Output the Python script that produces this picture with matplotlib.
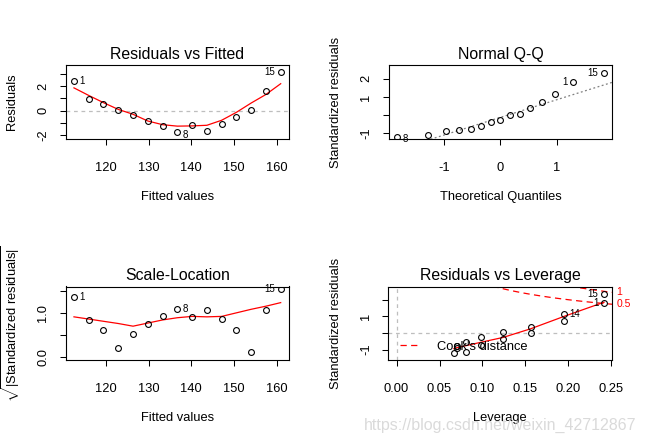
import numpy as np
import matplotlib
matplotlib.use("Agg")
import matplotlib.pyplot as plt

plt.rcParams['font.family'] = ['Liberation Sans', 'DejaVu Sans']
plt.rcParams['mathtext.fontset'] = 'custom'
plt.rcParams['mathtext.rm'] = 'Liberation Sans'
plt.rcParams['mathtext.it'] = 'Liberation Sans:italic'
plt.rcParams['mathtext.bf'] = 'Liberation Sans:bold'

# ---- data (lm diagnostics, 15 observations) ----
obs_id = list(range(1, 16))
fitted = [112.58, 116.03, 119.48, 122.93, 126.38, 129.83, 133.28, 136.73,
          140.18, 143.63, 147.08, 150.53, 153.98, 157.43, 160.88]
residuals = [2.417, 0.967, 0.517, 0.067, -0.383, -0.833, -1.283, -1.733,
             -1.183, -1.633, -1.083, -0.533, 0.017, 1.567, 3.117]
std_resid = [1.820, 0.707, 0.369, 0.047, -0.265, -0.570, -0.873, -1.177,
             -0.805, -1.117, -0.748, -0.374, 0.012, 1.145, 2.347]
sqrt_abs_std = [1.349, 0.841, 0.607, 0.216, 0.515, 0.755, 0.934, 1.085,
                0.897, 1.057, 0.865, 0.611, 0.109, 1.070, 1.532]
leverage = [0.2417, 0.1952, 0.1560, 0.1238, 0.0988, 0.0810, 0.0702, 0.0667,
            0.0702, 0.0810, 0.0988, 0.1238, 0.1560, 0.1952, 0.2417]
# Normal Q-Q (sorted)
theor_q = [-1.834, -1.282, -0.967, -0.728, -0.524, -0.341, -0.168, 0.0,
           0.168, 0.341, 0.524, 0.728, 0.967, 1.282, 1.834]
qq_sample = [-1.177, -1.117, -0.873, -0.805, -0.748, -0.570, -0.374, -0.265,
             0.012, 0.047, 0.369, 0.707, 1.145, 1.820, 2.347]
qq_ids = [8, 10, 7, 9, 11, 6, 12, 5, 13, 4, 3, 2, 14, 1, 15]
qqline_slope = 0.974
qqline_intercept = -0.119
# smoothers
smooth_rf = [1.86, 1.24, 0.65, 0.10, -0.30, -0.85, -1.15, -1.27, -1.25, -1.20,
             -0.79, -0.14, 0.62, 1.32, 2.20]
smooth_sl = [0.91, 0.86, 0.81, 0.76, 0.70, 0.77, 0.84, 0.89, 0.92, 0.91,
             0.92, 1.00, 1.08, 1.15, 1.23]
smooth_lev_x = [0.0667, 0.0702, 0.0810, 0.0988, 0.1238, 0.1560, 0.1952, 0.2417]
smooth_lev_y = [-0.94, -0.88, -0.76, -0.55, -0.27, 0.25, 1.00, 1.85]
cook_levels = [0.5, 1]
n_params = 2

# labelled points per panel: (id, side)
lab_rf = [(1, 'r'), (8, 'r'), (15, 'l')]
lab_qq = [(8, 'r'), (1, 'l'), (15, 'l')]
lab_sl = [(1, 'r'), (8, 'r'), (15, 'l')]
lab_lev = [(15, 'l'), (1, 'l'), (14, 'r')]

W, H = 646, 442
fig = plt.figure(figsize=(W / 100, H / 100), dpi=100)

FS = 9.3
TFS = 11.4
LFS = 7.0


def box(l, r, t, b):
    return [l / W, 1 - b / H, (r - l) / W, (b - t) / H]


def style(ax, xlim, ylim, xt, xtl, yt, ytl, title, xlabel, ylabel, ylpad=13):
    ax.set_xlim(*xlim)
    ax.set_ylim(*ylim)
    ax.set_xticks(xt)
    ax.set_xticklabels(xtl, fontsize=FS)
    ax.set_yticks(yt)
    ax.set_yticklabels(ytl, fontsize=FS, rotation=90, va='center')
    ax.tick_params(axis='both', length=4.3, width=0.75, color='black')
    ax.tick_params(axis='x', pad=12)
    ax.tick_params(axis='y', pad=7.5)
    for s in ax.spines.values():
        s.set_linewidth(0.8)
        s.set_color('black')
    ax.set_title(title, fontsize=TFS, pad=4.5)
    ax.set_xlabel(xlabel, fontsize=FS, labelpad=12.5)
    ax.set_ylabel(ylabel, fontsize=FS, labelpad=ylpad)


def pts(ax, x, y):
    ax.plot(x, y, linestyle='none', marker='o', ms=4.2, mfc='none',
            mec='black', mew=0.8, zorder=3)


def label_points(ax, xs, ys, ids, labs):
    for i, side in labs:
        k = ids.index(i)
        dy = -2 if ys[k] < 0 else 0
        dx = 4 if side == 'r' else -4
        ax.annotate(str(i), (xs[k], ys[k]), xytext=(dx, dy),
                    textcoords='offset points',
                    ha='left' if side == 'r' else 'right', va='center',
                    fontsize=LFS, annotation_clip=False, zorder=4)


# ---------- Panel 1: Residuals vs Fitted ----------
ax1 = fig.add_axes(box(65.7, 289, 65, 139.3))
ax1.axhline(0, color='#bebebe', lw=0.9, ls=(0, (3, 3)), zorder=1)
pts(ax1, fitted, residuals)
ax1.plot(fitted, smooth_rf, color='red', lw=0.9, zorder=2)
label_points(ax1, fitted, residuals, obs_id, lab_rf)
style(ax1, (110.65, 162.82), (-2.346, 3.730),
      [120, 130, 140, 150, 160], ['120', '130', '140', '150', '160'],
      [-2, -1, 0, 1, 2, 3], ['-2', '', '0', '', '2', ''],
      'Residuals vs Fitted', 'Fitted values', 'Residuals', ylpad=14)

# ---------- Panel 2: Normal Q-Q ----------
ax2 = fig.add_axes(box(388.7, 612.3, 65, 139.3))
xl = np.array([-2.2, 2.2])
ax2.plot(xl, qqline_intercept + qqline_slope * xl, color='#7f7f7f', lw=0.9,
         ls=(0, (1.5, 2)), zorder=1)
pts(ax2, theor_q, qq_sample)
label_points(ax2, theor_q, qq_sample, qq_ids, lab_qq)
style(ax2, (-1.98, 1.98), (-1.328, 2.763),
      [-1, 0, 1], ['-1', '0', '1'],
      [-1, 0, 1, 2], ['-1', '', '1', '2'],
      'Normal Q-Q', 'Theoretical Quantiles', 'Standardized residuals')

# ---------- Panel 3: Scale-Location ----------
ax3 = fig.add_axes(box(65.7, 289, 286.5, 360))
pts(ax3, fitted, sqrt_abs_std)
ax3.plot(fitted, smooth_sl, color='red', lw=0.9, zorder=2)
label_points(ax3, fitted, sqrt_abs_std, obs_id, lab_sl)
style(ax3, (110.65, 162.82), (-0.0613, 1.593),
      [120, 130, 140, 150, 160], ['120', '130', '140', '150', '160'],
      [0, 0.5, 1.0, 1.5], ['0.0', '', '1.0', ''],
      'Scale-Location', 'Fitted values',
      r'$\sqrt{|\mathrm{Standardized\ residuals}|}$', ylpad=11)

# ---------- Panel 4: Residuals vs Leverage ----------
ax4 = fig.add_axes(box(388.3, 612.3, 286.5, 360))
xlim4 = (-0.00967, 0.2513)
ax4.axhline(0, color='#bebebe', lw=0.9, ls=(0, (3, 3)), zorder=1)
ax4.axvline(0, color='#bebebe', lw=0.9, ls=(0, (3, 3)), zorder=1)
pts(ax4, leverage, std_resid)
ax4.plot(smooth_lev_x, smooth_lev_y, color='red', lw=0.9, zorder=2)
hh = np.linspace(min(leverage) / 100, xlim4[1], 101)
for lev in cook_levels:
    cl = np.sqrt(lev * n_params * (1 - hh) / hh)
    ax4.plot(hh, cl, color='red', lw=0.9, ls=(0, (5, 3.5)), zorder=2)
    ax4.plot(hh, -cl, color='red', lw=0.9, ls=(0, (5, 3.5)), zorder=2)
    aty = np.sqrt(lev * n_params * (1 - xlim4[1]) / xlim4[1])
    ax4.annotate(str(lev), (1.0, aty), xycoords=('axes fraction', 'data'),
                 xytext=(3, 0), textcoords='offset points', color='red',
                 fontsize=LFS + 0.5, ha='left', va='center',
                 annotation_clip=False)
label_points(ax4, leverage, std_resid, obs_id, lab_lev)
style(ax4, xlim4, (-1.622, 2.793),
      [0.00, 0.05, 0.10, 0.15, 0.20, 0.25],
      ['0.00', '0.05', '0.10', '0.15', '0.20', '0.25'],
      [-1, 0, 1, 2], ['-1', '', '1', ''],
      'Residuals vs Leverage', 'Leverage', 'Standardized residuals')
ax4.plot([], [], color='red', lw=0.9, ls=(0, (5, 3.5)), label="Cook's distance")
leg = ax4.legend(loc='center left', bbox_to_anchor=(0.052, 0.177),
                 frameon=False, fontsize=FS, handlelength=1.6,
                 borderpad=0, borderaxespad=0, handletextpad=1.3)

fig.text(636 / W, 1 - 425 / H, 'https://blog.csdn.net/weixin_42712867',
         fontsize=11.5, color='#d6d6d6', ha='right', va='center', alpha=0.9)

fig.savefig('out.png', dpi=100)
